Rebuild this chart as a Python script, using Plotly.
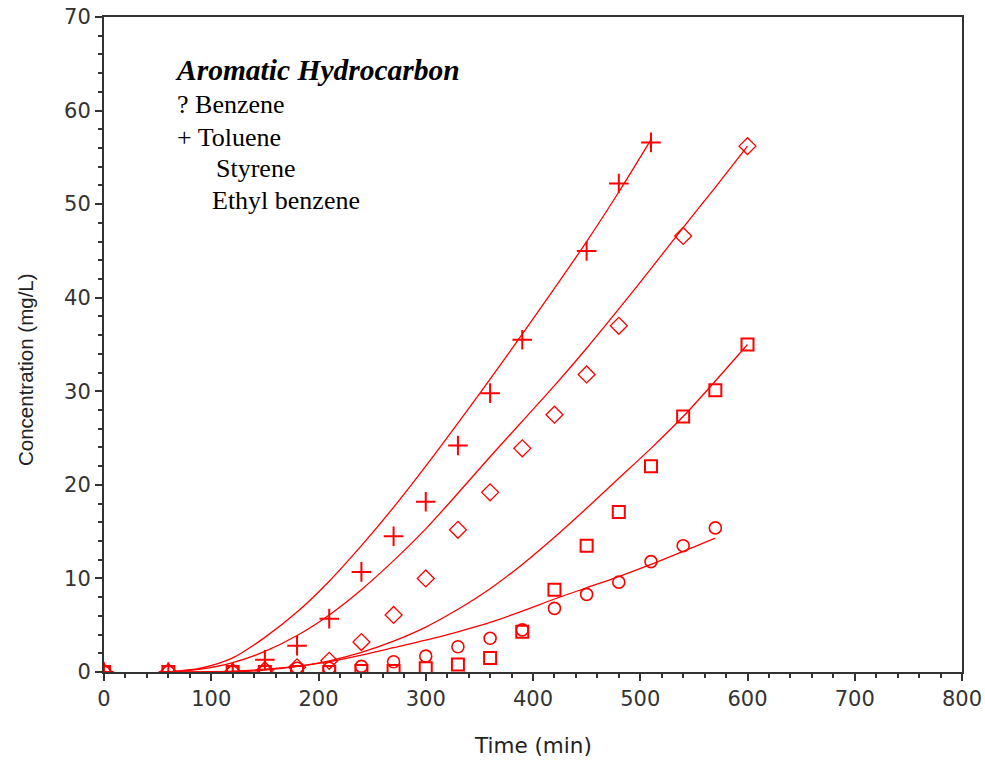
import plotly.graph_objects as go

# ---- Data ----
toluene_t = [0, 60, 120, 150, 180, 210, 240, 270, 300, 330, 360, 390, 450, 480, 510]
toluene_c = [0, 0, 0, 1.3, 2.8, 5.7, 10.7, 14.5, 18.2, 24.2, 29.8, 35.5, 45.0, 52.2, 56.6]

styrene_t = [0, 60, 120, 150, 180, 210, 240, 270, 300, 330, 360, 390, 420, 450, 480, 540, 600]
styrene_c = [0, 0, 0, 0.2, 0.5, 1.2, 3.2, 6.1, 10.0, 15.2, 19.2, 23.9, 27.5, 31.8, 37.0, 46.6, 56.2]

ethyl_t = [0, 60, 120, 150, 180, 210, 240, 270, 300, 330, 360, 390, 420, 450, 480, 510, 540, 570, 600]
ethyl_c = [0, 0, 0, 0, 0, 0, 0.1, 0.1, 0.4, 0.8, 1.5, 4.3, 8.8, 13.5, 17.1, 22.0, 27.3, 30.1, 35.0]

benzene_t = [0, 60, 120, 150, 180, 210, 240, 270, 300, 330, 360, 390, 420, 450, 480, 510, 540, 570]
benzene_c = [0, 0, 0, 0.1, 0.4, 0.4, 0.6, 1.1, 1.7, 2.7, 3.6, 4.5, 6.8, 8.3, 9.6, 11.8, 13.5, 15.4]

# model curves
fit1_t = [60, 90, 120, 150, 180, 210, 240, 270, 300, 330, 360, 390, 420, 450, 480, 510]
fit1_c = [0, 0.4, 1.5, 3.7, 6.4, 9.7, 13.5, 17.6, 22.0, 26.6, 31.3, 36.1, 41.0, 46.0, 51.3, 56.9]

fit2_t = [60, 90, 120, 150, 180, 210, 240, 270, 300, 330, 360, 390, 420, 450, 480, 510, 540, 570, 600]
fit2_c = [0, 0.3, 1.0, 2.2, 3.9, 6.1, 8.8, 11.9, 15.3, 19.1, 23.0, 26.8, 30.6, 34.6, 38.8, 43.1, 47.5, 51.8, 56.2]

fit3_t = [60, 120, 150, 180, 210, 240, 270, 300, 330, 360, 390, 420, 450, 480, 510, 540, 570, 600]
fit3_c = [0, 0, 0.2, 0.6, 1.2, 2.1, 3.3, 4.8, 6.7, 8.9, 11.5, 14.4, 17.5, 20.7, 23.9, 27.3, 31.1, 35.0]

fit4_t = [60, 120, 150, 180, 210, 240, 270, 300, 330, 360, 390, 420, 450, 480, 510, 540, 570]
fit4_c = [0, 0.1, 0.3, 0.6, 1.1, 1.8, 2.6, 3.4, 4.3, 5.3, 6.5, 7.8, 9.0, 10.2, 11.5, 12.9, 14.3]

x_ticks = [0, 100, 200, 300, 400, 500, 600, 700, 800]
y_ticks = [0, 10, 20, 30, 40, 50, 60, 70]

RED = "#FF0000"
fig = go.Figure()

for t, c in [(fit1_t, fit1_c), (fit2_t, fit2_c), (fit3_t, fit3_c), (fit4_t, fit4_c)]:
    fig.add_trace(go.Scatter(x=t, y=c, mode="lines", line=dict(color=RED, width=1.3, shape="spline", smoothing=0.8),
                             showlegend=False, hoverinfo="skip"))

fig.add_trace(go.Scatter(x=benzene_t, y=benzene_c, mode="markers", name="Benzene",
                         marker=dict(symbol="circle-open", size=12, color=RED, line=dict(width=1.6, color=RED))))
fig.add_trace(go.Scatter(x=toluene_t, y=toluene_c, mode="markers", name="Toluene",
                         marker=dict(symbol="cross-thin-open", size=14, color=RED, line=dict(width=2, color=RED))))
fig.add_trace(go.Scatter(x=styrene_t, y=styrene_c, mode="markers", name="Styrene",
                         marker=dict(symbol="diamond-open", size=13, color=RED, line=dict(width=1.3, color=RED))))
fig.add_trace(go.Scatter(x=ethyl_t, y=ethyl_c, mode="markers", name="Ethyl benzene",
                         marker=dict(symbol="square-open", size=12, color=RED, line=dict(width=2, color=RED))))

AX = "#333333"
SANS = "DejaVu Sans, sans-serif"
fig.update_layout(
    width=985, height=764,
    margin=dict(l=104, r=23, t=17, b=92, autoexpand=False),
    paper_bgcolor="white", plot_bgcolor="white",
    showlegend=False,
    font=dict(family=SANS, color="#222222"),
    xaxis=dict(range=[0, 800], tickvals=x_ticks, ticks="outside", ticklen=7, tickwidth=2, tickcolor=AX,
               showline=True, linecolor=AX, linewidth=2, mirror=True, showgrid=False, zeroline=False,
               automargin=False, tickfont=dict(family=SANS, size=21, color="#333333"),
               minor=dict(dtick=20, ticks="outside", ticklen=4, tickwidth=2, tickcolor=AX, showgrid=False)),
    yaxis=dict(range=[0, 70], tickvals=y_ticks, ticks="outside", ticklen=7, tickwidth=2, tickcolor=AX,
               showline=True, linecolor=AX, linewidth=2, mirror=True, showgrid=False, zeroline=False,
               automargin=False, tickfont=dict(family=SANS, size=21, color="#333333"),
               minor=dict(dtick=2, ticks="outside", ticklen=4, tickwidth=2, tickcolor=AX, showgrid=False)),
)

# axis titles
fig.add_annotation(x=(533 - 104) / 858, y=(672 - 745) / 655, xref="paper", yref="paper", text="Time (min)",
                   showarrow=False, xanchor="center", yanchor="middle",
                   font=dict(family=SANS, size=21.5, color="#222222"))
fig.add_annotation(x=(25 - 104) / 858, y=(672 - 370) / 655, xref="paper", yref="paper", text="Concentration (mg/L)",
                   textangle=-90, showarrow=False, xanchor="center", yanchor="middle",
                   font=dict(family="Liberation Sans, Arial, sans-serif", size=20.5, color="#222222"))

serif = "Liberation Serif, Times New Roman, serif"
fig.add_annotation(x=0.081, y=(672 - 70) / 655, xref="paper", yref="paper", xanchor="left", yanchor="middle",
                   text="<b><i>Aromatic Hydrocarbon</i></b>", showarrow=False,
                   font=dict(family=serif, size=29.5, color="black"))
legend_lines = [("? Benzene", 0.083, 104), ("+ Toluene", 0.083, 137), ("Styrene", 0.128, 169),
                ("Ethyl benzene", 0.124, 201)]
for txt, lx, py in legend_lines:
    fig.add_annotation(x=lx, y=(672 - py) / 655, xref="paper", yref="paper", xanchor="left", yanchor="middle",
                       text=txt, showarrow=False, font=dict(family=serif, size=26, color="black"))

fig.write_html("out.html")
